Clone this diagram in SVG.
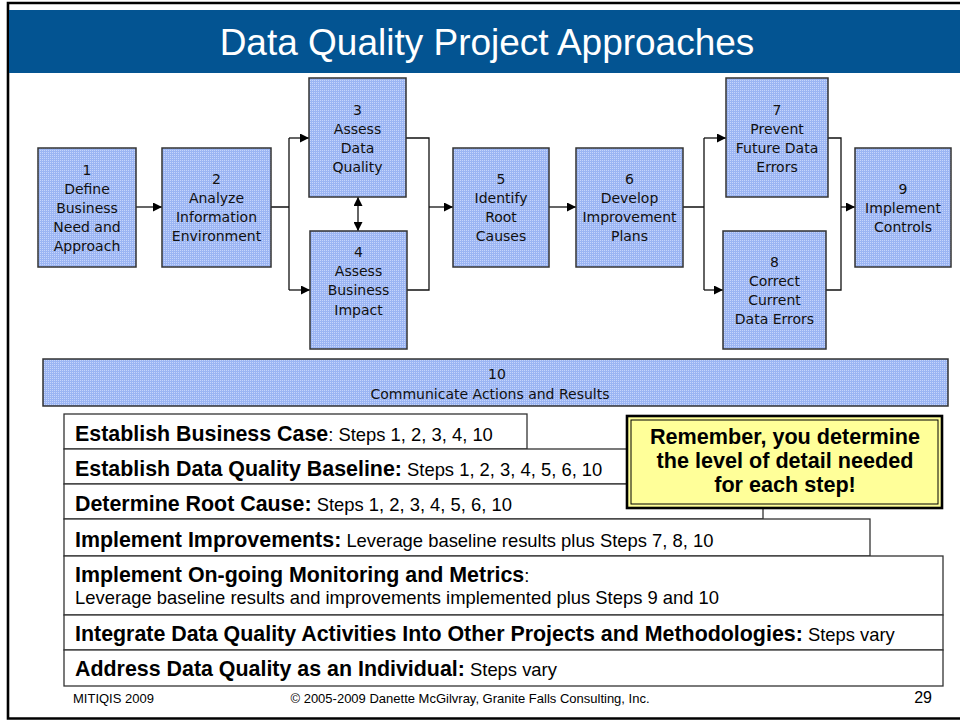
<svg xmlns="http://www.w3.org/2000/svg" width="960" height="721" viewBox="0 0 960 721">
  <defs>
    <pattern id="grid" width="2" height="2" patternUnits="userSpaceOnUse">
      <rect width="2" height="2" fill="#9bb5f3"/>
      <rect width="1" height="1" fill="#c6d5fb"/>
    </pattern>
    <marker id="arrow" viewBox="0 0 10 10" refX="10" refY="5" markerWidth="9" markerHeight="9" markerUnits="userSpaceOnUse" orient="auto-start-reverse">
      <path d="M0,0 L10,5 L0,10 z" fill="#000"/>
    </marker>
    <style>
      .step rect { fill: url(#grid); stroke: #333; stroke-width: 1.5; }
      .step text { font-family: "DejaVu Sans", Verdana, sans-serif; font-size: 14px; fill: #111; stroke: none; text-anchor: middle; }
      .link { fill: none; stroke: #111; stroke-width: 1.3; }
      .arr { marker-end: url(#arrow); }
      .row rect { fill: #fff; stroke: #333; stroke-width: 1.3; }
      .row text { font-family: "Liberation Sans", Arial, sans-serif; fill: #000; }
      .b { font-weight: bold; font-size: 21.4px; }
      .r { font-weight: normal; font-size: 18.4px; }
      .foot { font-family: "Liberation Sans", Arial, sans-serif; font-size: 13px; fill: #000; }
    </style>
  </defs>

  <!-- page frame and title band -->
  <rect x="0" y="0" width="960" height="721" fill="#fff"/>
  <path d="M960,3 H8 V718.5 H960" fill="none" stroke="#000" stroke-width="2.6"/>
  <rect x="9" y="10" width="951" height="63" fill="#035492"/>
  <text x="487" y="55" font-family="'Liberation Sans', Arial, sans-serif" font-size="37" fill="#fff" text-anchor="middle">Data Quality Project Approaches</text>

  <!-- connectors -->
  <g id="connectors">
    <path class="link arr" d="M136,207 H162"/>
    <path class="link" d="M271,207 H289 M289,138 V290"/>
    <path class="link arr" d="M289,138 H309"/>
    <path class="link arr" d="M289,290 H310"/>
    <path class="link arr" d="M358,197 V231" marker-start="url(#arrow)"/>
    <path class="link" d="M406,138 H429 V290 H407"/>
    <path class="link arr" d="M429,207 H453"/>
    <path class="link arr" d="M549,207 H576"/>
    <path class="link" d="M683,207 H704 M704,138 V290"/>
    <path class="link arr" d="M704,138 H726"/>
    <path class="link arr" d="M704,290 H723"/>
    <path class="link" d="M828,138 H841 V290 H826"/>
    <path class="link arr" d="M841,207 H855"/>
  </g>

  <!-- process steps -->
  <g id="step1" class="step">
    <rect x="38" y="148" width="98" height="119"/>
    <text x="87" y="175">1</text>
    <text x="87" y="194">Define</text>
    <text x="87" y="213">Business</text>
    <text x="87" y="232">Need and</text>
    <text x="87" y="251">Approach</text>
  </g>
  <g id="step2" class="step">
    <rect x="162" y="148" width="109" height="119"/>
    <text x="216.5" y="184">2</text>
    <text x="216.5" y="203">Analyze</text>
    <text x="216.5" y="222">Information</text>
    <text x="216.5" y="241">Environment</text>
  </g>
  <g id="step3" class="step">
    <rect x="309" y="78" width="97" height="119"/>
    <text x="357.5" y="115">3</text>
    <text x="357.5" y="134">Assess</text>
    <text x="357.5" y="153">Data</text>
    <text x="357.5" y="172">Quality</text>
  </g>
  <g id="step4" class="step">
    <rect x="310" y="231" width="97" height="118"/>
    <text x="358.5" y="257">4</text>
    <text x="358.5" y="276">Assess</text>
    <text x="358.5" y="295">Business</text>
    <text x="358.5" y="315">Impact</text>
  </g>
  <g id="step5" class="step">
    <rect x="453" y="148" width="96" height="119"/>
    <text x="501" y="184">5</text>
    <text x="501" y="203">Identify</text>
    <text x="501" y="222">Root</text>
    <text x="501" y="241">Causes</text>
  </g>
  <g id="step6" class="step">
    <rect x="576" y="148" width="107" height="119"/>
    <text x="629.5" y="184">6</text>
    <text x="629.5" y="203">Develop</text>
    <text x="629.5" y="222">Improvement</text>
    <text x="629.5" y="241">Plans</text>
  </g>
  <g id="step7" class="step">
    <rect x="726" y="78" width="102" height="119"/>
    <text x="777" y="115">7</text>
    <text x="777" y="134">Prevent</text>
    <text x="777" y="153">Future Data</text>
    <text x="777" y="172">Errors</text>
  </g>
  <g id="step8" class="step">
    <rect x="723" y="231" width="103" height="118"/>
    <text x="774.5" y="267">8</text>
    <text x="774.5" y="286">Correct</text>
    <text x="774.5" y="305">Current</text>
    <text x="774.5" y="324">Data Errors</text>
  </g>
  <g id="step9" class="step">
    <rect x="855" y="148" width="96" height="119"/>
    <text x="903" y="194">9</text>
    <text x="903" y="213">Implement</text>
    <text x="903" y="232">Controls</text>
  </g>
  <g id="step10" class="step">
    <rect x="43" y="359" width="905" height="47"/>
    <text x="497" y="379">10</text>
    <text x="490" y="399">Communicate Actions and Results</text>
  </g>

  <!-- project approaches -->
  <g id="approaches">
    <g id="row1" class="row">
      <rect x="64" y="414" width="463" height="35"/>
      <text x="75" y="441"><tspan class="b">Establish Business Case</tspan><tspan class="r">: Steps 1, 2, 3, 4, 10</tspan></text>
    </g>
    <g id="row2" class="row">
      <rect x="64" y="449" width="740" height="35"/>
      <text x="75" y="476"><tspan class="b">Establish Data Quality Baseline:</tspan><tspan class="r"> Steps 1, 2, 3, 4, 5, 6, 10</tspan></text>
    </g>
    <g id="row3" class="row">
      <rect x="64" y="484" width="699" height="35"/>
      <text x="75" y="511"><tspan class="b">Determine Root Cause:</tspan><tspan class="r"> Steps 1, 2, 3, 4, 5, 6, 10</tspan></text>
    </g>
    <g id="row4" class="row">
      <rect x="64" y="519" width="806" height="37"/>
      <text x="75" y="547"><tspan class="b">Implement Improvements:</tspan><tspan class="r"> Leverage baseline results plus Steps 7, 8, 10</tspan></text>
    </g>
    <g id="row5" class="row">
      <rect x="64" y="556" width="879" height="59"/>
      <text x="75" y="582"><tspan class="b">Implement On-going Monitoring and Metrics</tspan><tspan class="r">:</tspan></text>
      <text x="75" y="604" class="r">Leverage baseline results and improvements implemented plus Steps 9 and 10</text>
    </g>
    <g id="row6" class="row">
      <rect x="64" y="615" width="879" height="35"/>
      <text x="75" y="641"><tspan class="b">Integrate Data Quality Activities Into Other Projects and Methodologies:</tspan><tspan class="r"> Steps vary</tspan></text>
    </g>
    <g id="row7" class="row">
      <rect x="64" y="650" width="879" height="36"/>
      <text x="75" y="676"><tspan class="b">Address Data Quality as an Individual:</tspan><tspan class="r"> Steps vary</tspan></text>
    </g>
  </g>

  <!-- reminder note -->
  <g id="note">
    <rect x="627" y="416" width="315" height="92" fill="#ffff99" stroke="#000" stroke-width="2.6"/>
    <rect x="631" y="420" width="307" height="84" fill="none" stroke="#000" stroke-width="1"/>
    <g font-family="'Liberation Sans', Arial, sans-serif" font-weight="bold" font-size="21.6" fill="#000" text-anchor="middle">
      <text x="785" y="444">Remember, you determine</text>
      <text x="785" y="468">the level of detail needed</text>
      <text x="785" y="492">for each step!</text>
    </g>
  </g>

  <!-- footer -->
  <text class="foot" x="73" y="703">MITIQIS 2009</text>
  <text class="foot" x="470" y="703" text-anchor="middle">© 2005-2009 Danette McGilvray, Granite Falls Consulting, Inc.</text>
  <text x="932" y="703" font-family="'Liberation Sans', Arial, sans-serif" font-size="16" text-anchor="end" fill="#000">29</text>
</svg>
